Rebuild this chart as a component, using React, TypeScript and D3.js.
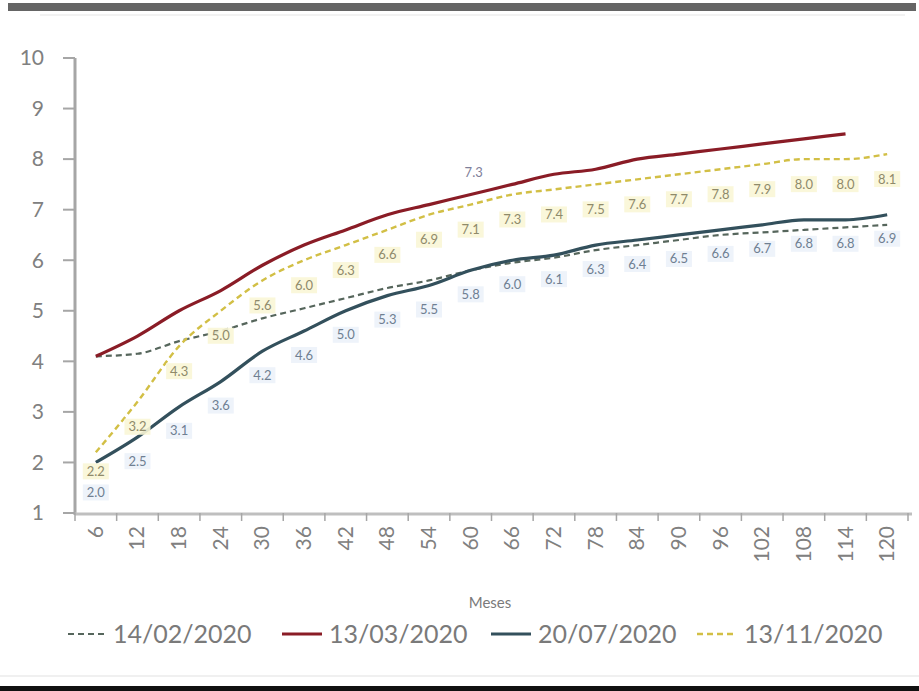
import React from "react";
import * as d3 from "d3";

const categories: string[] = ["6","12","18","24","30","36","42","48","54","60","66","72","78","84","90","96","102","108","114","120"];
const seriesNames: string[] = ["14/02/2020", "13/03/2020", "20/07/2020", "13/11/2020"];
const values1402: number[] = [4.1, 4.15, 4.4, 4.6, 4.85, 5.05, 5.25, 5.45, 5.6, 5.8, 5.95, 6.05, 6.2, 6.3, 6.4, 6.5, 6.55, 6.6, 6.65, 6.7];
const values1303: number[] = [4.1, 4.5, 5.0, 5.4, 5.9, 6.3, 6.6, 6.9, 7.1, 7.3, 7.5, 7.7, 7.8, 8.0, 8.1, 8.2, 8.3, 8.4, 8.5];
const values2007: number[] = [2.0, 2.5, 3.1, 3.6, 4.2, 4.6, 5.0, 5.3, 5.5, 5.8, 6.0, 6.1, 6.3, 6.4, 6.5, 6.6, 6.7, 6.8, 6.8, 6.9];
const values1311: number[] = [2.2, 3.2, 4.3, 5.0, 5.6, 6.0, 6.3, 6.6, 6.9, 7.1, 7.3, 7.4, 7.5, 7.6, 7.7, 7.8, 7.9, 8.0, 8.0, 8.1];
const yTicks: number[] = [1, 2, 3, 4, 5, 6, 7, 8, 9, 10];
const xTitle = "Meses";

const FONT = "Lato, 'Open Sans', 'Noto Sans', sans-serif";

export default function App() {
  const W = 919, H = 691;
  const left = 75, right = 908, top = 58, bottom = 513;
  const x = d3.scaleBand<string>().domain(categories).range([left, right]);
  const bw = x.bandwidth();
  const cx = (i: number) => (x(categories[i]) as number) + bw / 2;
  const y = d3.scaleLinear().domain([1, 10]).range([bottom, top]);

  const line = d3.line<number>().x((_, i) => cx(i)).y((d) => y(d)).curve(d3.curveMonotoneX);

  const series = [
    { name: seriesNames[0], vals: values1402, color: "#56665c", width: 2.2, dash: "6,4" },
    { name: seriesNames[1], vals: values1303, color: "#8a1c26", width: 3.2, dash: "" },
    { name: seriesNames[2], vals: values2007, color: "#33505c", width: 3.2, dash: "" },
    { name: seriesNames[3], vals: values1311, color: "#d2bf45", width: 2.4, dash: "6,4" },
  ];

  const legendItems = [
    { lx: 68, tx: 113 },
    { lx: 282, tx: 329 },
    { lx: 491, tx: 538 },
    { lx: 697, tx: 744 },
  ];

  const off2007 = (i: number) => (i === 0 ? 30 : 24);
  const off1311 = (i: number) => (i === 0 ? 19 : 25);

  return (
    <svg width={W} height={H} style={{ position: "absolute", left: 0, top: 0, background: "#fff" }}>
      <rect x={0} y={0} width={W} height={H} fill="#fff" />
      <rect x={8} y={3} width={908} height={8} fill="#656565" />
      <line x1={40} x2={905} y1={15} y2={15} stroke="#f2f2f2" strokeWidth={2} />
      <line x1={0} x2={W} y1={676} y2={676} stroke="#f0f0f0" strokeWidth={2} />
      <rect x={0} y={686} width={W} height={5} fill="#111" />

      {/* y axis */}
      <line x1={left} x2={left} y1={top} y2={bottom + 2} stroke="#a6a6a6" strokeWidth={3} />
      {yTicks.map((t) => (
        <g key={t}>
          <line x1={left - 12} x2={left} y1={y(t)} y2={y(t)} stroke="#a6a6a6" strokeWidth={2} />
          <text x={44} y={y(t)} dy="0.35em" textAnchor="end" fontFamily={FONT} fontSize={21} fill="#808080">{t}</text>
        </g>
      ))}

      {/* x axis */}
      <line x1={left} x2={right + 4} y1={bottom + 1} y2={bottom + 1} stroke="#bfbfbf" strokeWidth={3} />
      {categories.map((c) => (
        <line key={"t" + c} x1={x(c) as number} x2={x(c) as number} y1={bottom} y2={bottom + 8} stroke="#a6a6a6" strokeWidth={1.5} />
      ))}
      <line x1={right} x2={right} y1={bottom} y2={bottom + 8} stroke="#a6a6a6" strokeWidth={1.5} />
      {categories.map((c, i) => (
        <text key={"l" + c} transform={`translate(${cx(i) + 7},526) rotate(-90)`} textAnchor="end" fontFamily={FONT} fontSize={21} fill="#808080">{c}</text>
      ))}
      <text x={490} y={608} textAnchor="middle" fontFamily={FONT} fontSize={15} fill="#7a7a7a">{xTitle}</text>

      {/* lines */}
      {series.map((s) => (
        <path key={s.name} d={line(s.vals) || ""} fill="none" stroke={s.color} strokeWidth={s.width} strokeDasharray={s.dash || undefined} />
      ))}

      {/* data labels 20/07 (below) */}
      {values2007.map((v, i) => (
        <g key={"a" + i}>
          <rect x={cx(i) - 13} y={y(v) + off2007(i) - 8} width={26} height={16} fill="#eef3fa" />
          <text x={cx(i)} y={y(v) + off2007(i)} dy="0.35em" textAnchor="middle" fontFamily={FONT} fontSize={13} fill="#6f7f92">{v.toFixed(1)}</text>
        </g>
      ))}
      {/* data labels 13/11 (below) */}
      {values1311.map((v, i) => (
        <g key={"b" + i}>
          <rect x={cx(i) - 13} y={y(v) + off1311(i) - 8} width={26} height={16} fill="#faf6d6" opacity={0.9} />
          <text x={cx(i)} y={y(v) + off1311(i)} dy="0.35em" textAnchor="middle" fontFamily={FONT} fontSize={13} fill="#8f8a6a">{v.toFixed(1)}</text>
        </g>
      ))}
      {/* single label 13/03 */}
      <text x={cx(9) + 3} y={y(values1303[9]) - 22} dy="0.35em" textAnchor="middle" fontFamily={FONT} fontSize={13} fill="#7f7f9a">{values1303[9].toFixed(1)}</text>

      {/* legend */}
      {series.map((s, i) => (
        <g key={"lg" + i}>
          <line x1={legendItems[i].lx} x2={legendItems[i].lx + 40} y1={634} y2={634} stroke={s.color} strokeWidth={s.width} strokeDasharray={s.dash || undefined} />
          <text x={legendItems[i].tx} y={634} dy="0.35em" fontFamily={FONT} fontSize={25} fill="#7a7a7a">{s.name}</text>
        </g>
      ))}
    </svg>
  );
}
